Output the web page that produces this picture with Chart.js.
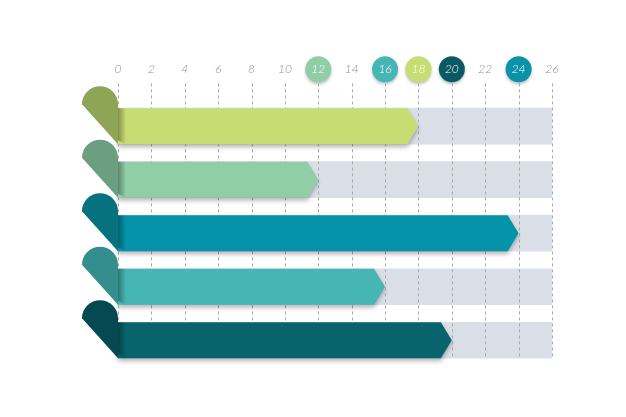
<!DOCTYPE html>
<html>
<head>
<meta charset="utf-8">
<script src="https://cdn.jsdelivr.net/npm/chart.js@4.4.1/dist/chart.umd.min.js"></script>
<style>
html, body { margin: 0; padding: 0; background: #fff; }
#wrap { width: 626px; height: 417px; }
</style>
</head>
<body>
<div id="wrap"><canvas id="bars"></canvas></div>
<script>
// rows, top to bottom
var rows = ['1', '2', '3', '4', '5'];
var values = [18, 12, 24, 16, 20];
var fullScale = [26, 26, 26, 26, 26];
var barColors = ['#c8dc74', '#8fcea6', '#0493a8', '#46b6b5', '#07646d'];
var leafColors = ['#8fa556', '#6c9f80', '#06717f', '#348e8d', '#054a52'];
var markerColors = ['#c8dc74', '#8fcea6', '#0a93a8', '#46b6b5', '#0b5a63'];
var tickMin = 0, tickMax = 26, tickStep = 2;

var TICK_PAD = 23;
var TICK_SIZE = 12;

const ribbons = {
    id: 'ribbons',
    // round badges sit behind the tick labels
    beforeDraw(chart) {
        const ctx = chart.ctx;
        const sx = chart.scales.x;
        const cy = sx.bottom - TICK_PAD - TICK_SIZE * 1.2 / 2;
        ctx.save();
        for (let i = 0; i < values.length; i++) {
            const px = sx.getPixelForValue(values[i]);
            ctx.shadowColor = 'rgba(0,0,0,0.25)';
            ctx.shadowBlur = 3;
            ctx.shadowOffsetY = 2;
            ctx.fillStyle = markerColors[i];
            ctx.beginPath();
            ctx.arc(px, cy, 13, 0, Math.PI * 2);
            ctx.fill();
        }
        ctx.restore();
    },
    // dashed grid over the grey tracks
    afterDatasetDraw(chart, args) {
        if (args.index !== 1) return;
        const ctx = chart.ctx;
        const sx = chart.scales.x;
        const els = args.meta.data;
        const last = els[els.length - 1].getProps(['y', 'height'], true);
        const y0 = chart.chartArea.top - 16;
        const y1 = last.y + last.height / 2;
        ctx.save();
        ctx.strokeStyle = '#a8a8a8';
        ctx.lineWidth = 1;
        ctx.setLineDash([3, 3]);
        for (let v = tickMin; v <= tickMax; v += tickStep) {
            const px = Math.round(sx.getPixelForValue(v)) + 0.5;
            ctx.beginPath();
            ctx.moveTo(px, y0);
            ctx.lineTo(px, y1);
            ctx.stroke();
        }
        ctx.restore();
    },
    // arrow bars with the folded leaf on the left
    beforeDatasetDraw(chart, args) {
        if (args.index !== 0) return;
        const ctx = chart.ctx;
        const tip = 11;
        args.meta.data.forEach(function (el, i) {
            const p = el.getProps(['x', 'y', 'base', 'height'], true);
            const top = p.y - p.height / 2;
            const bot = p.y + p.height / 2;
            ctx.save();
            ctx.shadowColor = 'rgba(0,0,0,0.28)';
            ctx.shadowBlur = 4;
            ctx.shadowOffsetY = 3;
            ctx.fillStyle = barColors[i];
            ctx.beginPath();
            ctx.moveTo(p.base, top);
            ctx.lineTo(p.x - tip, top);
            ctx.lineTo(p.x, p.y);
            ctx.lineTo(p.x - tip, bot);
            ctx.lineTo(p.base, bot);
            ctx.closePath();
            ctx.fill();
            ctx.restore();

            // inner fold shade
            ctx.save();
            const g = ctx.createLinearGradient(p.base, 0, p.base + 8, 0);
            g.addColorStop(0, 'rgba(0,0,0,0.35)');
            g.addColorStop(1, 'rgba(0,0,0,0)');
            ctx.fillStyle = g;
            ctx.beginPath();
            ctx.moveTo(p.base, top);
            ctx.lineTo(p.base + 8, top);
            ctx.lineTo(p.base + 8, bot);
            ctx.lineTo(p.base, bot - 4);
            ctx.closePath();
            ctx.fill();
            ctx.restore();

            // leaf
            const r = p.height / 2;
            ctx.save();
            ctx.fillStyle = leafColors[i];
            ctx.beginPath();
            ctx.arc(p.base - r, top - 4, r, Math.PI, 0);
            ctx.lineTo(p.base, bot);
            ctx.closePath();
            ctx.fill();
            ctx.restore();
        });
        return false;
    }
};

new Chart(document.getElementById('bars'), {
    type: 'bar',
    data: {
        labels: rows,
        datasets: [{
            data: values,
            backgroundColor: barColors,
            grouped: false,
            barThickness: 36
        }, {
            data: fullScale,
            backgroundColor: '#dadfe7',
            grouped: false,
            barThickness: 36
        }]
    },
    options: {
        indexAxis: 'y',
        responsive: true,
        maintainAspectRatio: false,
        animation: false,
        layout: {
            padding: { left: 118, right: 74, top: 39, bottom: 50 }
        },
        scales: {
            x: {
                position: 'top',
                min: tickMin,
                max: tickMax,
                border: { display: false },
                grid: { display: false, drawTicks: false },
                ticks: {
                    stepSize: tickStep,
                    padding: TICK_PAD,
                    font: { family: 'Lato', style: 'italic', weight: '300', size: TICK_SIZE },
                    color: function (c) {
                        return values.indexOf(c.tick.value) >= 0 ? '#ffffff' : '#909090';
                    }
                }
            },
            y: { display: false }
        },
        plugins: {
            legend: { display: false },
            tooltip: { enabled: false }
        }
    },
    plugins: [ribbons]
});
</script>
</body>
</html>
